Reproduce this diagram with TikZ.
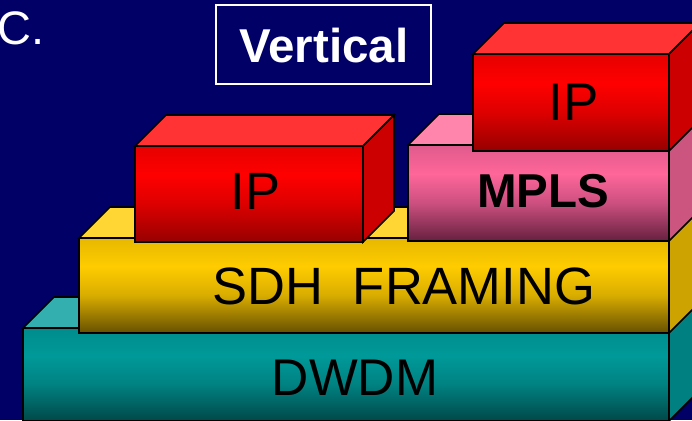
\documentclass[tikz,border=0pt]{standalone}
\usepackage{fontspec}
\setmainfont{Liberation Sans}
\definecolor{navybg}{HTML}{000066}
% teal
\definecolor{tealTop}{HTML}{33AFAF}
\definecolor{tealSide}{HTML}{008080}
\definecolor{tealA}{HTML}{008C8C}
\definecolor{tealB}{HTML}{009999}
\definecolor{tealC}{HTML}{008282}
\definecolor{tealD}{HTML}{004848}
% yellow
\definecolor{yelTop}{HTML}{FFD633}
\definecolor{yelSide}{HTML}{CCA300}
\definecolor{yelA}{HTML}{E6B800}
\definecolor{yelB}{HTML}{FFCC00}
\definecolor{yelC}{HTML}{D9AD00}
\definecolor{yelD}{HTML}{665000}
% red
\definecolor{redTop}{HTML}{FF3333}
\definecolor{redSide}{HTML}{CC0000}
\definecolor{redA}{HTML}{E60000}
\definecolor{redB}{HTML}{FF0000}
\definecolor{redC}{HTML}{DD0000}
\definecolor{redD}{HTML}{960000}
% pink
\definecolor{pinkTop}{HTML}{FF85AD}
\definecolor{pinkSide}{HTML}{CC5580}
\definecolor{pinkA}{HTML}{E05A8C}
\definecolor{pinkB}{HTML}{FF6699}
\definecolor{pinkC}{HTML}{CC5080}
\definecolor{pinkD}{HTML}{66203F}
\pgfdeclareverticalshading{tealsh}{100bp}{color(0bp)=(tealD); color(25bp)=(tealD); color(45bp)=(tealC); color(60bp)=(tealB); color(75bp)=(tealA); color(100bp)=(tealA)}
\pgfdeclareverticalshading{yelsh}{100bp}{color(0bp)=(yelD); color(25bp)=(yelD); color(45bp)=(yelC); color(60bp)=(yelB); color(75bp)=(yelA); color(100bp)=(yelA)}
\pgfdeclareverticalshading{redsh}{100bp}{color(0bp)=(redD); color(25bp)=(redD); color(45bp)=(redC); color(60bp)=(redB); color(75bp)=(redA); color(100bp)=(redA)}
\pgfdeclareverticalshading{pinksh}{100bp}{color(0bp)=(pinkD); color(25bp)=(pinkD); color(45bp)=(pinkC); color(60bp)=(pinkB); color(75bp)=(pinkA); color(100bp)=(pinkA)}
\tikzset{
  face/.style={draw=black,line width=1.6pt,line join=miter},
  lbl/.style={anchor=base,inner sep=0pt,text=black},
}
% x1 y1 x2 y2 shading topcolor sidecolor
\newcommand{\myblock}[7]{%
  \path[face,fill=#6] ({#1},{#2}) -- ({#1+31},{#2-31}) -- ({#3+31},{#2-31}) -- ({#3},{#2}) -- cycle;
  \path[face,fill=#7] ({#3},{#2}) -- ({#3+31},{#2-31}) -- ({#3+31},{#4-31}) -- ({#3},{#4}) -- cycle;
  \path[face,shade,shading=#5] ({#1},{#2}) rectangle ({#3},{#4});
}
\begin{document}
\begin{tikzpicture}[x=1pt,y=-1pt]
\useasboundingbox (0,0) rectangle (692,420);
\clip (0,0) rectangle (692,420);
\fill[navybg] (0,0) rectangle (692,420);
% title texts
\node[anchor=base west,inner sep=0pt,text=white,font=\fontsize{47}{47}\selectfont] (c) at (-3,45) {C.};
\draw[white,line width=1.6pt] (216,5) rectangle (431,84);
\node[anchor=base,inner sep=0pt,text=white,font=\fontsize{47.5}{47.5}\selectfont\bfseries] (vert) at (324,63) {Vertical};
% blocks
\myblock{23}{328}{669}{421}{tealsh}{tealTop}{tealSide}
\myblock{79}{238}{669}{333}{yelsh}{yelTop}{yelSide}
\myblock{135}{146}{363}{242}{redsh}{redTop}{redSide}
\myblock{408}{145}{669}{241}{pinksh}{pinkTop}{pinkSide}
\myblock{473}{54}{669}{151}{redsh}{redTop}{redSide}
% labels
\node[lbl,font=\fontsize{51.6}{51.6}\selectfont] (dwdm) at (355,395) {DWDM};
\node[lbl,font=\fontsize{52.5}{52.5}\selectfont] (sdh) at (404,304) {SDH\ \ FRAMING};
\node[lbl,font=\fontsize{52.5}{52.5}\selectfont] (ip1) at (255.5,209) {IP};
\node[lbl,font=\fontsize{47.5}{47.5}\selectfont\bfseries] (mpls) at (543,207) {MPLS};
\node[lbl,font=\fontsize{53}{53}\selectfont] (ip2) at (573.5,120) {IP};
\end{tikzpicture}
\end{document}
